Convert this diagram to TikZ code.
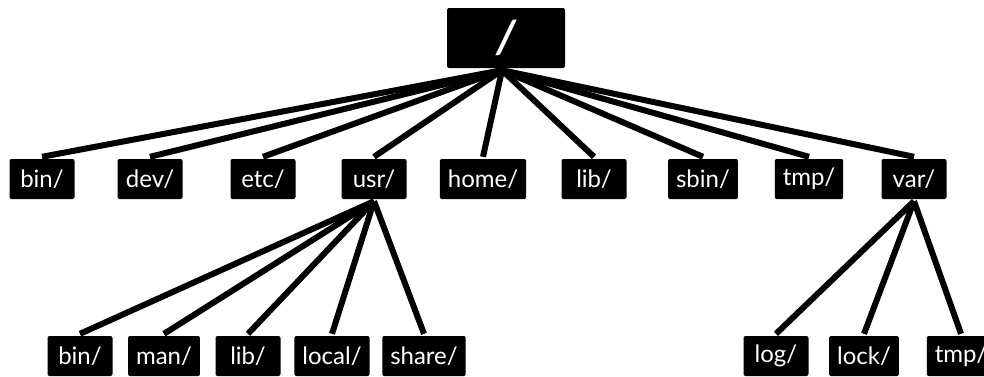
\documentclass[tikz,border=0pt]{standalone}
\usepackage{fontspec}
\setmainfont{Lato}
\begin{document}
\begin{tikzpicture}[x=1pt,y=-1pt,
  dirbox/.style={fill=black,text=white,rounded corners=2pt,minimum height=40pt,minimum width=65pt,inner xsep=8pt,font=\fontsize{24}{24}\selectfont},
  rootbox/.style={fill=black,text=white,rounded corners=2pt,minimum height=60pt,minimum width=118pt,font=\fontsize{46}{46}\selectfont\bfseries\itshape},
  edge/.style={line width=6pt}]
\pgfdeclarelayer{bg}
\pgfsetlayers{bg,main}
\useasboundingbox (0,0) rectangle (984,376);
\node[rootbox] (root) at (506,38) {/};
\node[dirbox] (bin) at (42,179) {bin/};
\node[dirbox] (dev) at (150,179) {dev/};
\node[dirbox] (etc) at (263,179) {etc/};
\node[dirbox] (usr) at (374,179) {usr/};
\node[dirbox] (home) at (483,179) {home/};
\node[dirbox] (lib) at (594,179) {lib/};
\node[dirbox] (sbin) at (703,179) {sbin/};
\node[dirbox] (tmp) at (809,179) {tmp/};
\node[dirbox] (var) at (914,179) {var/};
\node[dirbox] (ubin) at (80,356) {bin/};
\node[dirbox] (uman) at (164,356) {man/};
\node[dirbox] (ulib) at (248,356) {lib/};
\node[dirbox] (ulocal) at (332,356) {local/};
\node[dirbox] (ushare) at (424,356) {share/};
\node[dirbox] (vlog) at (776,356) {log/};
\node[dirbox] (vlock) at (864,356) {lock/};
\node[dirbox] (vtmp) at (961,356) {tmp/};
\begin{pgfonlayer}{bg}
\foreach \c in {bin,dev,etc,usr,home,lib,sbin,tmp,var}
  \draw[edge] ([xshift=-4pt,yshift=-2pt]root.south) -- ([yshift=2pt]\c.north);
\foreach \c in {ubin,uman,ulib,ulocal,ushare}
  \draw[edge] ([yshift=-2pt]usr.south) -- ([yshift=2pt]\c.north);
\foreach \c in {vlog,vlock,vtmp}
  \draw[edge] ([yshift=-2pt]var.south) -- ([yshift=2pt]\c.north);
\end{pgfonlayer}
\end{tikzpicture}
\end{document}
